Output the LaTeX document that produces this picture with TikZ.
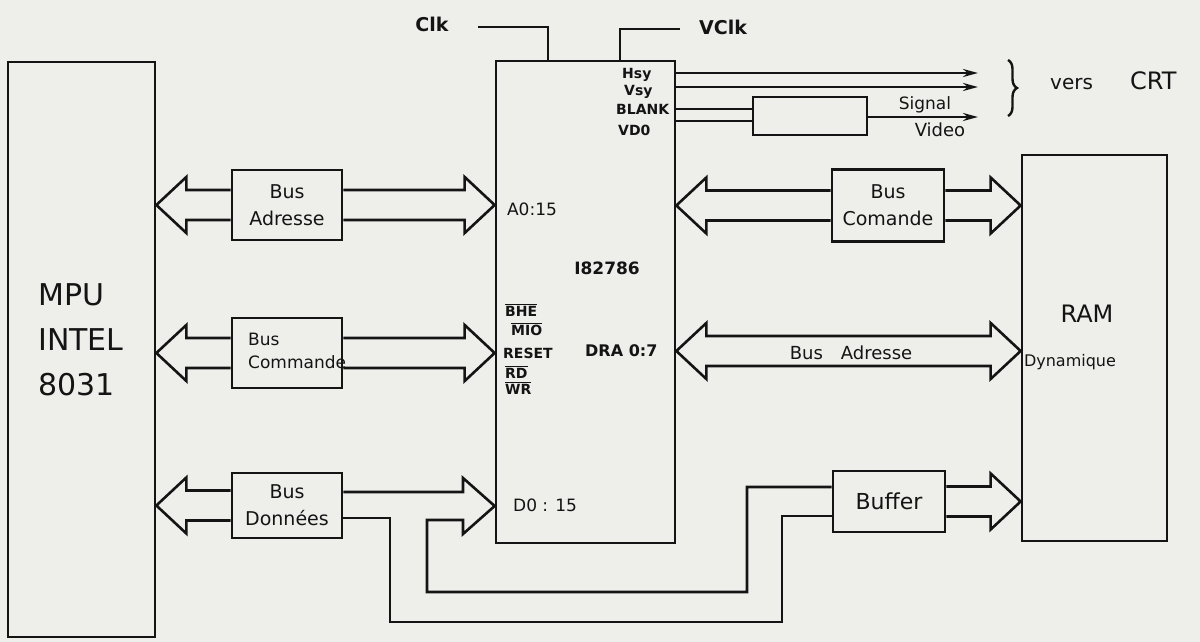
\documentclass[tikz,border=0pt]{standalone}
\usepackage{fontspec}
\setmainfont{DejaVu Sans}
\usetikzlibrary{positioning,arrows.meta,calc,decorations.pathreplacing}
\definecolor{paper}{RGB}{238,238,235}
\definecolor{ink}{RGB}{20,20,20}
\tikzset{
  blockbox/.style={draw=ink, line width=2.7pt, inner sep=0pt},
  busbox/.style={draw=ink, line width=2.6pt, minimum width=110pt, minimum height=70pt, inner sep=0pt, align=center, font=\fontsize{19}{27}\selectfont},
  busline/.style={draw=ink, line width=2.6pt, line join=miter, miter limit=10},
  sigline/.style={draw=ink, line width=2.6pt},
  sigarrow/.style={draw=ink, line width=2.6pt, -{Stealth[length=15pt, width=8pt]}},
  pinlabel/.style={inner sep=0pt, anchor=west, font=\bfseries\fontsize{14}{15}\selectfont},
  ctllabel/.style={inner sep=0pt, anchor=west, font=\bfseries\fontsize{14}{15}\selectfont},
  chiplabel/.style={inner sep=0pt, font=\fontsize{17}{18}\selectfont},
  biglabel/.style={inner sep=0pt, font=\fontsize{30}{45}\selectfont}
}
\newcommand{\busarrow}[3]{%
  \draw[busline] let \p1=(#1), \p2=(#2) in
    (\x1,{\y1+15pt}) -- ({\x2-(#3)*30pt},{\y1+15pt}) -- ({\x2-(#3)*30pt},{\y1+28pt})
    -- (\x2,\y1) -- ({\x2-(#3)*30pt},{\y1-28pt}) -- ({\x2-(#3)*30pt},{\y1-15pt}) -- (\x1,{\y1-15pt});}
\newcommand{\busboth}[2]{%
  \draw[busline] let \p1=(#1), \p2=(#2) in
    (\x1,\y1) -- ({\x1+30pt},{\y1+28pt}) -- ({\x1+30pt},{\y1+15pt}) -- ({\x2-30pt},{\y1+15pt})
    -- ({\x2-30pt},{\y1+28pt}) -- (\x2,\y1) -- ({\x2-30pt},{\y1-28pt}) -- ({\x2-30pt},{\y1-15pt})
    -- ({\x1+30pt},{\y1-15pt}) -- ({\x1+30pt},{\y1-28pt}) -- cycle;}
\newcommand{\pinbar}[1]{$\overline{\hbox{#1}}$}

\begin{document}
\begin{tikzpicture}[x=1pt, y=-1pt, >=Stealth, color=ink]
  \fill[paper] (0,0) rectangle (1200,642);
  \useasboundingbox (0,0) rectangle (1200,642);

  \node[blockbox, minimum width=147pt, minimum height=575pt] (mpu) at (81.5,349.5) {};
  \node[blockbox, minimum width=179pt, minimum height=482pt] (chip) at (585.5,302) {};
  \node[blockbox, minimum width=145pt, minimum height=386pt] (ram) at (1094.5,348) {};
  \node[biglabel, anchor=west, align=left] (mputxt) at (38,340) {MPU\\INTEL\\8031};
  \node[inner sep=0pt, font=\fontsize{24}{26}\selectfont] (ramtxt) at (1087,314) {RAM};
  \node[inner sep=0pt, font=\fontsize{16}{18}\selectfont] (dyntxt) at (1070,362) {Dynamique};

  \node[busbox] (adrL) at (287,205) {Bus\\Adresse};
  \node[busbox] (cmdL) at (287,353) {};
  \node[inner sep=0pt, anchor=west, align=left, font=\fontsize{17}{23}\selectfont] (cmdLtxt) at (248,351) {Bus\\Commande};
  \node[busbox, minimum height=65pt] (donL) at (287,505.5) {Bus\\Données};
  \node[busbox, minimum width=112pt, minimum height=72pt] (cmdR) at (888,205.5) {Bus\\Comande};
  \node[busbox, minimum width=112pt, minimum height=61pt, font=\fontsize{22}{24}\selectfont] (buffer) at (889,501.5) {Buffer};
  \node[blockbox, line width=2.6pt, minimum width=114pt, minimum height=38pt] (vbox) at (810,116) {};

  \node[chiplabel] (a015) at (532,209) {A0:15};
  \node[chiplabel, font=\bfseries\fontsize{17}{18}\selectfont] (chipname) at (607,268) {I82786};
  \node[chiplabel, anchor=west] (d015) at (513,505) {D0 : 15};
  \node[ctllabel, font=\bfseries\fontsize{16}{17}\selectfont] (dra) at (585,351) {DRA 0:7};
  \node[ctllabel] (bhe) at (505,310) {\pinbar{BHE}};
  \node[ctllabel] (mio) at (511,329) {\pinbar{MIO}};
  \node[ctllabel] (reset) at (503,353) {RESET};
  \node[ctllabel] (rd) at (505,372) {\pinbar{RD}};
  \node[ctllabel] (wr) at (505,388) {\pinbar{WR}};

  \node[pinlabel] (hsy) at (622,75) {Hsy};
  \node[pinlabel] (vsy) at (624,92) {Vsy};
  \node[pinlabel] (blank) at (616,109) {BLANK};
  \node[pinlabel] (vdo) at (618,130) {VD0};

  \node[inner sep=0pt, font=\bfseries\fontsize{19}{20}\selectfont] (clk) at (432,24) {Clk};
  \node[inner sep=0pt, font=\bfseries\fontsize{19}{20}\selectfont] (vclk) at (723,27) {VClk};
  \coordinate (clkin) at (478,27);
  \coordinate (vclkin) at (680,29);
  \draw[sigline] (clkin) -| ([xshift=-37.5pt]chip.north);
  \draw[sigline] (vclkin) -| ([xshift=34.5pt]chip.north);

  \coordinate (crt1) at (978,73);
  \coordinate (crt2) at (978,87);
  \coordinate (crt3) at (978,117);
  \draw[sigarrow] (chip.east |- crt1) -- (crt1);
  \draw[sigarrow] (chip.east |- crt2) -- (crt2);
  \draw[sigline] (chip.east |- 0,109) -- (vbox.west |- 0,109);
  \draw[sigline] (chip.east |- 0,121) -- (vbox.west |- 0,121);
  \draw[sigarrow] (vbox.east |- crt3) -- (crt3);
  \node[inner sep=0pt, font=\fontsize{17}{18}\selectfont] (sig) at (925,105) {Signal};
  \node[inner sep=0pt, font=\fontsize{18}{19}\selectfont] (vid) at (940,130) {Video};
  \draw[decorate, decoration={brace, amplitude=9pt}, line width=2.4pt] (1008,60) -- (1008,116);
  \node[inner sep=0pt, anchor=base west, font=\fontsize{20}{22}\selectfont] (vers) at (1050,89) {vers};
  \node[inner sep=0pt, anchor=base west, font=\fontsize{24}{26}\selectfont] (crt) at (1130,89) {CRT};

  \busarrow{adrL.west}{mpu.east |- adrL.west}{-1}
  \busarrow{adrL.east}{chip.west |- adrL.east}{1}
  \busarrow{cmdL.west}{mpu.east |- cmdL.west}{-1}
  \busarrow{cmdL.east}{chip.west |- cmdL.east}{1}
  \busarrow{donL.west}{mpu.east |- donL.west}{-1}
  \busarrow{cmdR.west}{chip.east |- cmdR.west}{-1}
  \busarrow{cmdR.east}{ram.west |- cmdR.east}{1}
  \busarrow{buffer.east}{ram.west |- buffer.east}{1}
  \busboth{chip.east |- dra}{ram.west |- dra}
  \node[inner sep=0pt, font=\fontsize{18}{20}\selectfont] (adrR) at (851,353) {Bus\quad Adresse};

  \draw[busline] (donL.east |- 0,492) -- (463,492) -- (463,478) -- (chip.west |- 0,506) -- (463,534)
    -- (463,520) -- (427,520) |- (747,592) |- (buffer.west |- 0,487);
  \draw[busline] (donL.east |- 0,518) -- (390,518) |- (782,622) |- (buffer.west |- 0,516);
\end{tikzpicture}
\end{document}
